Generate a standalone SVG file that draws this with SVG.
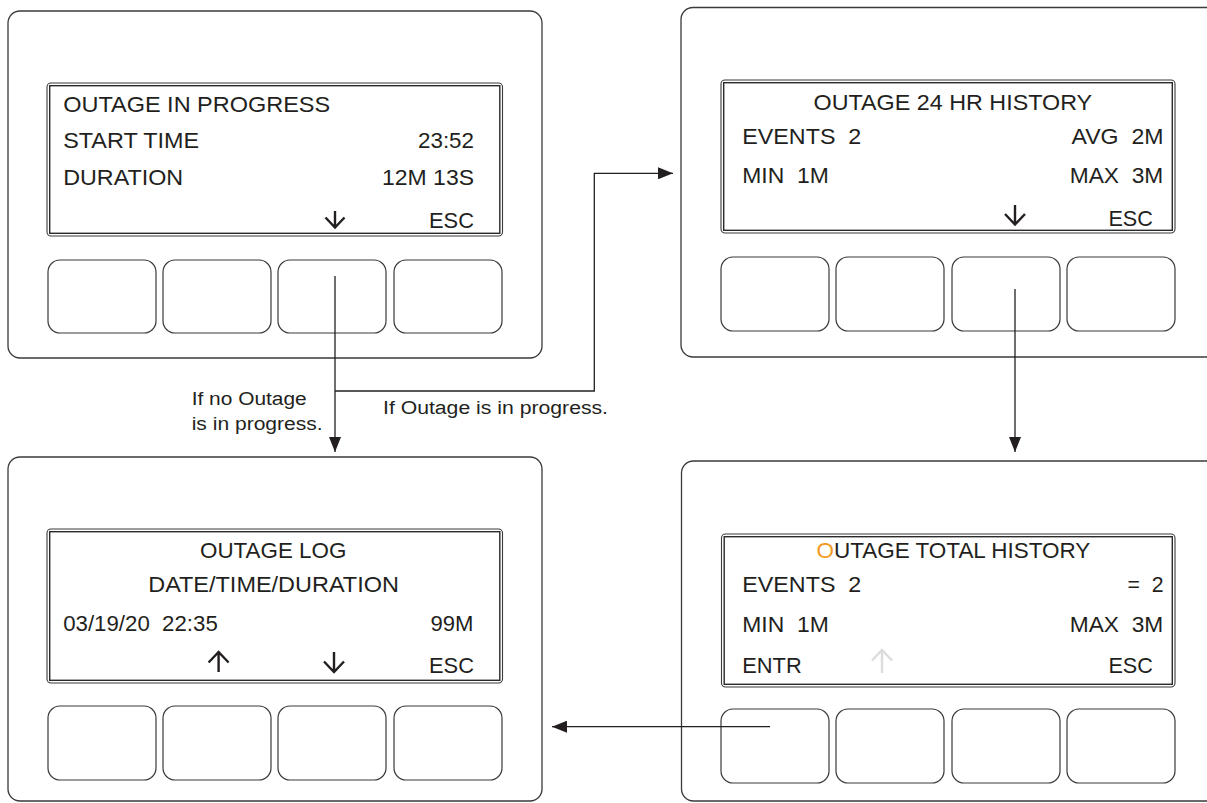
<svg xmlns="http://www.w3.org/2000/svg" width="1207" height="803" viewBox="0 0 1207 803">
<style>
.panel{fill:#fff;stroke:#3a3a3a;stroke-width:1.3}
.lcdo{fill:none;stroke:#3a3a3a;stroke-width:1.1}
.lcdi{fill:none;stroke:#2a2a2a;stroke-width:1.4}
.btn{fill:#fff;stroke:#3a3a3a;stroke-width:1.2}
.t{font-family:"Liberation Sans",Arial,sans-serif;font-size:22px;fill:#231f20}
.lbl{font-family:"Liberation Sans",Arial,sans-serif;font-size:18px;fill:#231f20}
.ico{fill:none;stroke:#231f20;stroke-width:2.4;stroke-linecap:butt;stroke-linejoin:miter}
.icog{fill:none;stroke:#dcdcdc;stroke-width:2.4}
.conn{fill:none;stroke:#231f20;stroke-width:1.3}
</style>
<defs>
<marker id="ah" markerUnits="userSpaceOnUse" markerWidth="16" markerHeight="12" refX="15" refY="6" orient="auto">
<path d="M0,0 L15,6 L0,12 z" fill="#231f20"/>
</marker>
</defs>

<g id="panel-outage-in-progress">
<rect class="panel" x="8" y="11" width="534" height="347" rx="12"/>
<rect class="lcdo" x="47" y="83" width="455.5" height="153" rx="4"/>
<rect class="lcdi" x="49.7" y="85.7" width="450.1" height="147.6"/>
<rect class="btn" x="48" y="260" width="108" height="73" rx="12"/>
<rect class="btn" x="163" y="260" width="108" height="73" rx="12"/>
<rect class="btn" x="278" y="260" width="108" height="73" rx="12"/>
<rect class="btn" x="394" y="260" width="108" height="73" rx="12"/>
<text class="t" x="63.2" y="112" textLength="267" lengthAdjust="spacingAndGlyphs">OUTAGE IN PROGRESS</text>
<text class="t" x="63.2" y="148" textLength="136" lengthAdjust="spacingAndGlyphs">START TIME</text>
<text class="t" x="418" y="148" textLength="56" lengthAdjust="spacingAndGlyphs">23:52</text>
<text class="t" x="63.2" y="185" textLength="120" lengthAdjust="spacingAndGlyphs">DURATION</text>
<text class="t" x="382" y="185" textLength="92" lengthAdjust="spacingAndGlyphs">12M 13S</text>
<text class="t" x="429" y="228" textLength="45" lengthAdjust="spacingAndGlyphs">ESC</text>
<path class="ico" d="M335,211 V227.5 M325.5,217.5 L335,227.5 L344.5,217.5"/>
</g>

<g id="panel-24hr-history">
<rect class="panel" x="681" y="7.5" width="540" height="349.5" rx="12"/>
<rect class="lcdo" x="721" y="80" width="454" height="153" rx="4"/>
<rect class="lcdi" x="723.7" y="82.7" width="448.6" height="147.6"/>
<rect class="btn" x="721" y="257" width="108" height="74" rx="12"/>
<rect class="btn" x="836" y="257" width="108" height="74" rx="12"/>
<rect class="btn" x="952" y="257" width="108" height="74" rx="12"/>
<rect class="btn" x="1067" y="257" width="108" height="74" rx="12"/>
<text class="t" x="813.6" y="110" textLength="278.5" lengthAdjust="spacingAndGlyphs">OUTAGE 24 HR HISTORY</text>
<text class="t" x="742.3" y="144" textLength="119" lengthAdjust="spacingAndGlyphs" xml:space="preserve">EVENTS  2</text>
<text class="t" x="1071.5" y="144" textLength="92" lengthAdjust="spacingAndGlyphs" xml:space="preserve">AVG  2M</text>
<text class="t" x="742.3" y="183" textLength="86.5" lengthAdjust="spacingAndGlyphs" xml:space="preserve">MIN  1M</text>
<text class="t" x="1069.7" y="183" textLength="93.6" lengthAdjust="spacingAndGlyphs" xml:space="preserve">MAX  3M</text>
<text class="t" x="1108.4" y="226" textLength="44.5" lengthAdjust="spacingAndGlyphs">ESC</text>
<path class="ico" d="M1015,205 V224.5 M1005,214 L1015,224.5 L1025,214"/>
</g>

<g id="panel-outage-log">
<rect class="panel" x="8" y="457" width="534" height="344" rx="12"/>
<rect class="lcdo" x="47" y="529" width="455.5" height="154" rx="4"/>
<rect class="lcdi" x="49.7" y="531.7" width="450.1" height="148.6"/>
<rect class="btn" x="48" y="706" width="108" height="74" rx="12"/>
<rect class="btn" x="163" y="706" width="108" height="74" rx="12"/>
<rect class="btn" x="278" y="706" width="108" height="74" rx="12"/>
<rect class="btn" x="394" y="706" width="108" height="74" rx="12"/>
<text class="t" x="200" y="558" textLength="146.4" lengthAdjust="spacingAndGlyphs">OUTAGE LOG</text>
<text class="t" x="148.2" y="592" textLength="250.7" lengthAdjust="spacingAndGlyphs">DATE/TIME/DURATION</text>
<text class="t" x="63.2" y="631" textLength="154.6" lengthAdjust="spacingAndGlyphs" xml:space="preserve">03/19/20  22:35</text>
<text class="t" x="430.4" y="631" textLength="43" lengthAdjust="spacingAndGlyphs">99M</text>
<text class="t" x="429" y="673" textLength="45" lengthAdjust="spacingAndGlyphs">ESC</text>
<path class="ico" d="M218.6,672 V652 M208.6,662.5 L218.6,652 L228.6,662.5"/>
<path class="ico" d="M334,652 V672 M324,661.5 L334,672 L344,661.5"/>
</g>

<g id="panel-total-history">
<rect class="panel" x="681.5" y="461" width="540" height="340" rx="12"/>
<rect class="lcdo" x="721.5" y="534" width="453.5" height="153" rx="4"/>
<rect class="lcdi" x="724.2" y="536.7" width="448.1" height="147.6"/>
<rect class="btn" x="721" y="709" width="108" height="74" rx="12"/>
<rect class="btn" x="836" y="709" width="108" height="74" rx="12"/>
<rect class="btn" x="952" y="709" width="108" height="74" rx="12"/>
<rect class="btn" x="1067" y="709" width="108" height="74" rx="12"/>
<text class="t" x="816.5" y="558" textLength="273.8" lengthAdjust="spacingAndGlyphs"><tspan fill="#f29a1f">O</tspan>UTAGE TOTAL HISTORY</text>
<text class="t" x="742.3" y="592" textLength="119" lengthAdjust="spacingAndGlyphs" xml:space="preserve">EVENTS  2</text>
<text class="t" x="1127.5" y="592" textLength="36" lengthAdjust="spacingAndGlyphs" xml:space="preserve">=  2</text>
<text class="t" x="742.3" y="632" textLength="86.5" lengthAdjust="spacingAndGlyphs" xml:space="preserve">MIN  1M</text>
<text class="t" x="1069.7" y="632" textLength="93.6" lengthAdjust="spacingAndGlyphs" xml:space="preserve">MAX  3M</text>
<text class="t" x="742.3" y="673" textLength="59.4" lengthAdjust="spacingAndGlyphs">ENTR</text>
<text class="t" x="1108.4" y="673" textLength="44.5" lengthAdjust="spacingAndGlyphs">ESC</text>
<path class="icog" d="M882,673 V650 M872,660.5 L882,650 L892,660.5"/>
</g>

<g id="connectors">
<path class="conn" d="M335,276 V452" marker-end="url(#ah)"/>
<path class="conn" d="M335,391 H594.3 V173.3 H673" marker-end="url(#ah)"/>
<path class="conn" d="M1015,289 V452" marker-end="url(#ah)"/>
<path class="conn" d="M770,726.7 H552" marker-end="url(#ah)"/>
<text class="lbl" x="191.7" y="405" textLength="115" lengthAdjust="spacingAndGlyphs">If no Outage</text>
<text class="lbl" x="191.7" y="430" textLength="131" lengthAdjust="spacingAndGlyphs">is in progress.</text>
<text class="lbl" x="383" y="414" textLength="225" lengthAdjust="spacingAndGlyphs">If Outage is in progress.</text>
</g>
</svg>
